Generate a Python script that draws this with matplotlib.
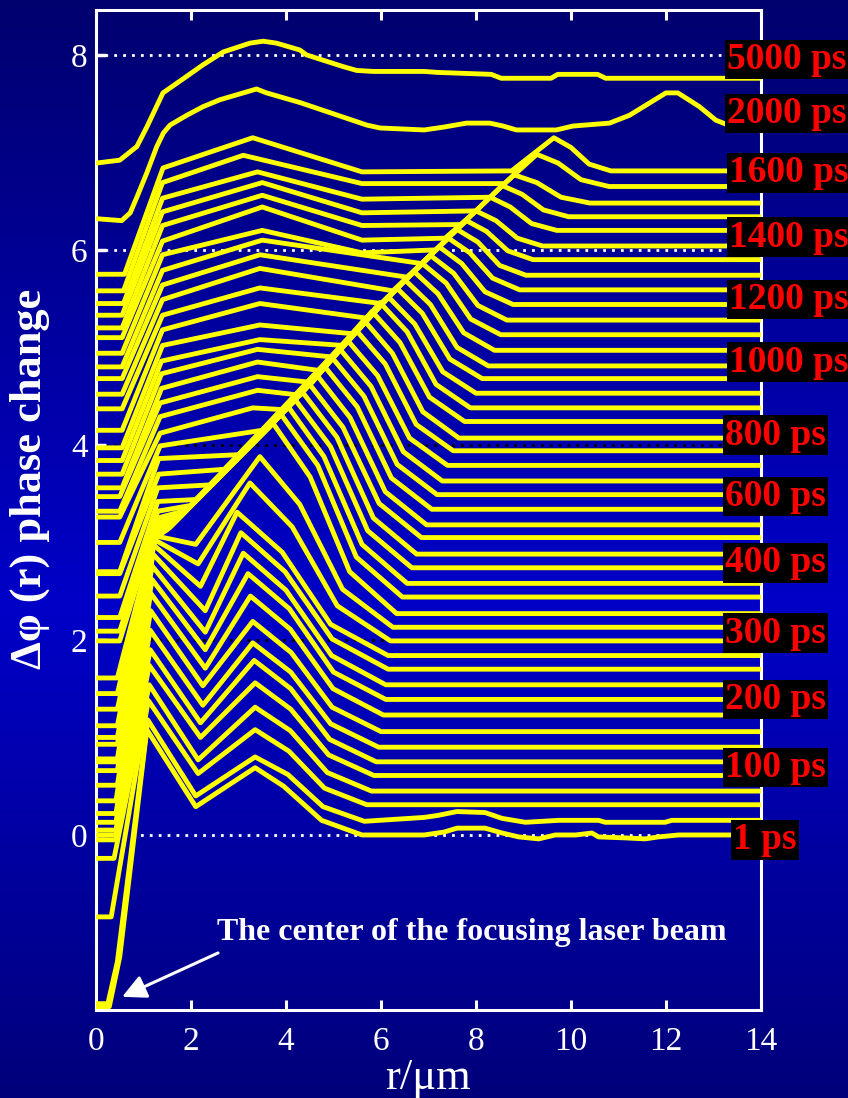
import numpy as np
import matplotlib
matplotlib.use("Agg")
import matplotlib.pyplot as plt

N = np.nan

# ---- traces, bottom trace (1 ps) first ----
# level each trace settles to at large r
fin = [0.00, 0.14, 0.31, 0.45, 0.61, 0.75, 0.90, 1.06, 1.23, 1.39,
       1.54, 1.70, 1.84, 1.99, 2.13, 2.27, 2.44, 2.58, 2.74, 2.88,
       3.05, 3.18, 3.34, 3.49, 3.63, 3.79, 3.94, 4.07, 4.24, 4.38,
       4.53, 4.68, 4.81, 4.97, 5.13, 5.28, 5.44, 5.59, 5.74, 5.90,
       6.04, 6.20, 6.34, 6.48, 6.65, 6.81]
# value at r = 0
start = [-1.76, -1.73, -0.84, -0.24, -0.05, 0.00, 0.05, 0.13, 0.22, 0.35,
         0.51, 0.66, 0.75, 0.78, 0.93, 1.00, 1.12, 1.29, 1.45, 1.61,
         1.99, 2.09, 2.23, 2.45, 2.68, 2.70, 3.00, 3.26, 3.32, 3.47,
         3.56, 3.70, 3.84, 3.97, 4.15, 4.37, 4.52, 4.68, 4.80, 4.94,
         5.10, 5.20, 5.33, 5.45, 5.58, 5.75]
# r where the steep rise begins
foot_r = [0.28, 0.25, 0.32, 0.38, 0.42, 0.42, 0.42, 0.42, 0.42, 0.42,
          0.45, 0.45, 0.45, 0.45, 0.45, 0.45, 0.45, 0.45, 0.45, 0.45,
          0.50, 0.50, 0.50, 0.50, 0.50, 0.50, 0.50, 0.50, 0.50, 0.50,
          0.55, 0.55, 0.55, 0.55, 0.55, 0.55, 0.55, 0.55, 0.55, 0.55,
          0.55, 0.55, 0.55, 0.58, 0.58, 0.60]
# knee on the rise of the two lowest traces
knee_r = [0.50, 0.45]
knee_v = [-1.25, -1.30]
# top of the steep rise
top_r = [1.07, 1.09, 1.10, 1.12, 1.12, 1.14, 1.14, 1.15, 1.15, 1.18,
         1.18, 1.20, 1.20, 1.22, 1.22, 1.25, 1.25, 1.27, 1.28, 1.30,
         1.30, 1.30, 1.30, 1.30, 1.32, 1.32, 1.35, 1.35, 1.35, 1.35,
         1.38, 1.38, 1.38, 1.40, 1.40, 1.40, 1.40, 1.40, 1.40, 1.40,
         1.40, 1.40, 1.40, 1.40, 1.40, 1.41]
top_v = [1.08, 1.18, 1.38, 1.54, 1.74, 1.90, 2.10, 2.30, 2.48, 2.62,
         2.76, 2.88, 2.98, 3.03, 3.07, 3.05, 3.08, 3.12, 3.16, 3.20,
         3.25, 3.32, 3.42, 3.56, 3.70, 3.86, 3.99, 4.12, 4.29, 4.43,
         4.58, 4.73, 4.86, 5.02, 5.18, 5.33, 5.49, 5.64, 5.79, 5.95,
         6.09, 6.25, 6.39, 6.53, 6.69, 6.84]
# trough (early traces) or plateau hump (late traces)
hump_r = [2.10, 2.10, 2.15, 2.15, 2.20, 2.20, 2.25, 2.25, 2.30, 2.30,
          2.30, 2.30, 2.20, 2.15, 2.10, N, N, N, N, N,
          N, N, N, N, N, N, N, 3.30, 3.40, 3.40,
          3.40, 3.40, 3.45, 3.45, 3.45, 3.45, 3.45, 3.45, 3.50, 3.50,
          3.50, 3.50, 3.50, 3.40, 3.10, 3.30]
hump_v = [0.29, 0.40, 0.63, 0.77, 1.00, 1.15, 1.33, 1.53, 1.71, 1.90,
          2.08, 2.30, 2.55, 2.78, 2.98, N, N, N, N, N,
          N, N, N, N, N, N, N, 4.38, 4.56, 4.70,
          4.85, 4.98, 5.08, 5.23, 5.45, 5.61, 5.81, 5.95, 6.10, 6.20,
          6.44, 6.56, 6.69, 6.80, 6.97, 7.15]
# end of the plateau decline
pre_r = [N] * 39 + [5.60, 5.60, 5.60, 5.60, 5.60, 5.60, 5.60]
pre_v = [N] * 39 + [5.97, 6.10, 6.25, 6.38, 6.52, 6.68, 6.80]
# where the trace joins the diagonal front
meet_r = [N] * 15 + [1.50, 1.55, 1.60, 1.70, 1.80, 1.90, 2.00, 2.10, 2.40, 2.70,
                     3.00, 3.50, 4.00, 4.30, 4.55, 4.75, 5.00, 5.20, 5.40, 5.70,
                     6.00, 6.25, 6.55, 6.85, 7.15, 7.35, 7.70, 8.00, 8.30, 8.60,
                     8.75]
meet_v = [N] * 15 + [3.13, 3.15, 3.18, 3.23, 3.28, 3.33, 3.38, 3.44, 3.59, 3.75,
                     3.90, 4.15, 4.36, 4.51, 4.64, 4.76, 4.90, 5.02, 5.14, 5.30,
                     5.45, 5.58, 5.72, 5.86, 6.00, 6.12, 6.26, 6.40, 6.54, 6.68,
                     6.81]
# front peak
peak_r = [3.35, 3.35, 3.35, 3.35, 3.35, 3.33, 3.30, 3.30, 3.25, 3.20,
          3.10, 3.05, 2.97, 3.24, 3.45, 3.73, 3.90, 4.05, 4.20, 4.35,
          4.50, 4.66, 4.82, 4.98, 5.14, 5.30, 5.47, 5.64, 5.81, 5.98,
          6.15, 6.33, 6.51, 6.69, 6.87, 7.05, 7.23, 7.42, 7.60, 7.80,
          8.00, 8.30, 8.55, 8.80, 9.28, 9.64]
peak_v = [0.69, 0.80, 1.08, 1.31, 1.56, 1.79, 1.97, 2.19, 2.45, 2.68,
          2.89, 3.10, 3.31, 3.61, 3.88, 4.22, 4.31, 4.39, 4.46, 4.54,
          4.62, 4.71, 4.80, 4.89, 4.98, 5.07, 5.18, 5.28, 5.37, 5.46,
          5.52, 5.61, 5.69, 5.78, 5.86, 5.94, 6.03, 6.12, 6.21, 6.30,
          6.40, 6.54, 6.66, 6.77, 6.98, 7.15]
# two points on the fall behind the front
d1_r = [3.95, 4.04, 4.06, 4.09, 4.10, 4.10, 4.10, 4.11, 4.09, 4.07,
        4.00, 3.98, 3.92, 4.13, 4.29, 4.51, 4.67, 4.80, 4.94, 5.07,
        5.20, 5.35, 5.50, 5.64, 5.79, 5.93, 6.09, 6.24, 6.40, 6.55,
        6.71, 6.87, 7.04, 7.20, 7.37, 7.53, 7.70, 7.87, 8.04, 8.22,
        8.42, 8.72, 8.97, 9.28, 9.73, 10.00]
d1_v = [0.50, 0.62, 0.86, 1.07, 1.29, 1.50, 1.67, 1.87, 2.11, 2.32,
        2.51, 2.70, 2.90, 3.16, 3.39, 3.67, 3.79, 3.88, 3.98, 4.08,
        4.18, 4.28, 4.39, 4.50, 4.60, 4.71, 4.83, 4.94, 5.05, 5.16,
        5.24, 5.35, 5.44, 5.55, 5.66, 5.76, 5.86, 5.97, 6.08, 6.19,
        6.30, 6.44, 6.57, 6.69, 6.89, 7.05]
d2_r = [4.75, 4.78, 4.81, 4.87, 4.90, 4.92, 4.94, 4.97, 4.99, 5.00,
        4.96, 4.97, 4.94, 5.08, 5.19, 5.34, 5.48, 5.60, 5.72, 5.84,
        5.96, 6.09, 6.22, 6.34, 6.47, 6.60, 6.74, 6.88, 7.02, 7.16,
        7.30, 7.45, 7.60, 7.74, 7.89, 8.04, 8.19, 8.35, 8.50, 8.67,
        8.87, 9.17, 9.42, 9.79, 10.21, 10.38]
d2_v = [0.15, 0.29, 0.48, 0.64, 0.82, 0.98, 1.14, 1.31, 1.50, 1.67,
        1.84, 2.01, 2.16, 2.35, 2.52, 2.70, 2.85, 2.98, 3.12, 3.25,
        3.40, 3.52, 3.66, 3.80, 3.93, 4.07, 4.21, 4.34, 4.49, 4.62,
        4.75, 4.88, 5.00, 5.15, 5.29, 5.43, 5.57, 5.71, 5.84, 5.99,
        6.12, 6.27, 6.41, 6.54, 6.72, 6.88]
# where the trace becomes flat
flat_r = [5.60, 5.65, 5.70, 5.80, 5.85, 5.90, 5.95, 6.00, 6.05, 6.10,
          6.10, 6.15, 6.15, 6.20, 6.25, 6.33, 6.45, 6.55, 6.65, 6.75,
          6.85, 6.96, 7.07, 7.18, 7.29, 7.40, 7.52, 7.64, 7.76, 7.88,
          8.00, 8.13, 8.26, 8.39, 8.52, 8.65, 8.78, 8.92, 9.05, 9.20,
          9.40, 9.70, 9.95, 10.40, 10.80, 10.84]

# small wiggles on the flat tails of the two lowest traces
tail0_r = [6.91, 7.33, 7.60, 8.19, 8.55, 8.90, 9.32, 9.67, 10.10, 10.44,
           10.58, 11.14, 11.56, 11.84, 12.27, 14.0]
tail0_v = [0.00, 0.03, 0.07, 0.07, 0.02, -0.02, -0.04, 0.00, 0.00, 0.02,
           -0.02, -0.03, -0.04, -0.02, 0.00, 0.00]
tail1_r = [6.91, 7.19, 7.60, 8.19, 8.55, 9.04, 9.74, 10.58, 10.72, 11.98, 12.12, 14.0]
tail1_v = [0.18, 0.20, 0.24, 0.23, 0.17, 0.13, 0.15, 0.15, 0.13, 0.13, 0.15, 0.15]

# the two late traces
r_2000 = [0, 0.54, 0.72, 0.86, 1.07, 1.28, 1.42, 1.56, 1.91, 2.26, 2.61, 3.17,
          3.38, 3.59, 4.30, 5.70, 5.98, 6.91, 7.33, 7.80, 8.29, 8.57, 8.85,
          9.69, 10.04, 10.81, 11.23, 12.00, 12.25, 12.70, 13.05, 13.26, 14.0]
v_2000 = [6.32, 6.30, 6.38, 6.54, 6.79, 7.06, 7.20, 7.28, 7.38, 7.47, 7.54, 7.62,
          7.65, 7.61, 7.51, 7.28, 7.25, 7.23, 7.26, 7.30, 7.30, 7.27, 7.23,
          7.23, 7.27, 7.30, 7.38, 7.61, 7.61, 7.47, 7.33, 7.29, 7.22]
r_5000 = [0, 0.50, 0.86, 1.07, 1.41, 1.91, 2.26, 2.68, 3.24, 3.52, 3.80, 4.29,
          4.43, 5.20, 5.49, 5.84, 6.91, 7.19, 8.32, 8.53, 9.58, 9.72, 10.56,
          10.73, 14.0]
v_5000 = [6.89, 6.92, 7.06, 7.26, 7.61, 7.78, 7.90, 8.03, 8.12, 8.14, 8.12, 8.05,
          8.00, 7.88, 7.84, 7.83, 7.83, 7.82, 7.80, 7.76, 7.76, 7.80, 7.80,
          7.76, 7.76]

# time labels on the right
lab_text = ['5000 ps', '2000 ps', '1600 ps', '1400 ps', '1200 ps', '1000 ps',
            '800 ps', '600 ps', '400 ps', '300 ps', '200 ps', '100 ps', '1 ps']
lab_y = [7.95, 7.40, 6.79, 6.13, 5.49, 4.85, 4.10, 3.47, 2.79, 2.07, 1.39, 0.69, -0.05]
lab_x = [13.28, 13.28, 13.33, 13.33, 13.33, 13.33, 13.24, 13.24, 13.24, 13.24,
         13.24, 13.24, 13.41]

grid_y = [0, 2, 4, 6, 8]
grid_c = ['white', 'black', 'black', 'white', 'white']

SERIF = 'Liberation Serif'
YEL = '#ffff00'

fig = plt.figure(figsize=(8.48, 10.98), dpi=100)

# blue background gradient
bg = fig.add_axes([0, 0, 1, 1], zorder=-10)
yy = np.linspace(0, 1, 500)
img = np.zeros((500, 1, 3))
img[:, 0, 2] = np.interp(yy, [0, 0.55, 1], [110, 200, 122]) / 255
bg.imshow(img, aspect='auto', extent=[0, 1, 0, 1])
bg.axis('off')

ax = fig.add_axes([96 / 848, 88 / 1098, 665 / 848, 1000 / 1098])
ax.set_facecolor('none')
ax.set_xlim(0, 14)
ax.set_ylim(-1.795, 8.46)

for v, c in zip(grid_y, grid_c):
    ax.axhline(v, color=c, lw=2.0, ls=(0, (1, 2.2)), zorder=1)

tails = {0: (tail0_r, tail0_v), 1: (tail1_r, tail1_v)}
for i in range(len(fin)):
    rr = [0, foot_r[i]]
    vv = [start[i], start[i]]
    if i < len(knee_r):
        rr.append(knee_r[i])
        vv.append(knee_v[i])
    rr.append(top_r[i])
    vv.append(top_v[i])
    for pr, pv in [(hump_r[i], hump_v[i]), (pre_r[i], pre_v[i]),
                   (meet_r[i], meet_v[i]), (peak_r[i], peak_v[i]),
                   (d1_r[i], d1_v[i]), (d2_r[i], d2_v[i]), (flat_r[i], fin[i])]:
        if not np.isnan(pr):
            rr.append(pr)
            vv.append(pv)
    if i in tails:
        rr += tails[i][0]
        vv += tails[i][1]
    else:
        rr.append(14.0)
        vv.append(fin[i])
    ax.plot(rr, vv, color=YEL, lw=3.5, solid_joinstyle='round', zorder=3)

ax.plot(r_2000, v_2000, color=YEL, lw=3.5, solid_joinstyle='round', zorder=3)
ax.plot(r_5000, v_5000, color=YEL, lw=3.5, solid_joinstyle='round', zorder=3)

for s, x, y in zip(lab_text, lab_x, lab_y):
    ax.text(x, y, s, color='red', fontsize=27, fontweight='bold', family=SERIF,
            ha='left', va='center', clip_on=False, zorder=6,
            bbox=dict(boxstyle='square,pad=0.06', fc='black', ec='none'))

ax.annotate('', xy=(0.55, -1.66), xytext=(2.57, -1.21),
            arrowprops=dict(arrowstyle='-|>,head_length=0.8,head_width=0.4',
                            color='white', lw=2.2, shrinkA=0, shrinkB=0,
                            mutation_scale=18), zorder=6)
ax.text(2.55, -1.08, 'The center of the focusing laser beam', color='white',
        fontsize=23, fontweight='bold', family=SERIF, ha='left', va='baseline')

for sp in ax.spines.values():
    sp.set_color('white')
    sp.set_linewidth(2.2)
ax.set_xticks(range(0, 15, 2))
ax.set_yticks([0, 2, 4, 6, 8])
ax.tick_params(axis='x', direction='in', length=7.5, width=2.2, color='white',
               top=True, labelcolor='white', labelsize=24, pad=12)
ax.tick_params(axis='y', direction='in', length=7.5, width=2.5, color='white',
               labelcolor='white', labelsize=24, pad=6)
for t in ax.get_xticklabels() + ax.get_yticklabels():
    t.set_family(SERIF)
for t, c in zip(ax.yaxis.get_major_ticks(), grid_c):
    t.tick1line.set_color(c)

fig.text(0.505, 0.008, 'r/\u03bcm', color='white', fontsize=32, family=SERIF,
         ha='center', va='baseline')
fig.text(0.0354, 0.5638, '\u0394\u03c6 (r) phase change', color='white', fontsize=32,
         fontweight='bold', family=SERIF, rotation=90, ha='center', va='center')

fig.savefig('out.png', dpi=100)
